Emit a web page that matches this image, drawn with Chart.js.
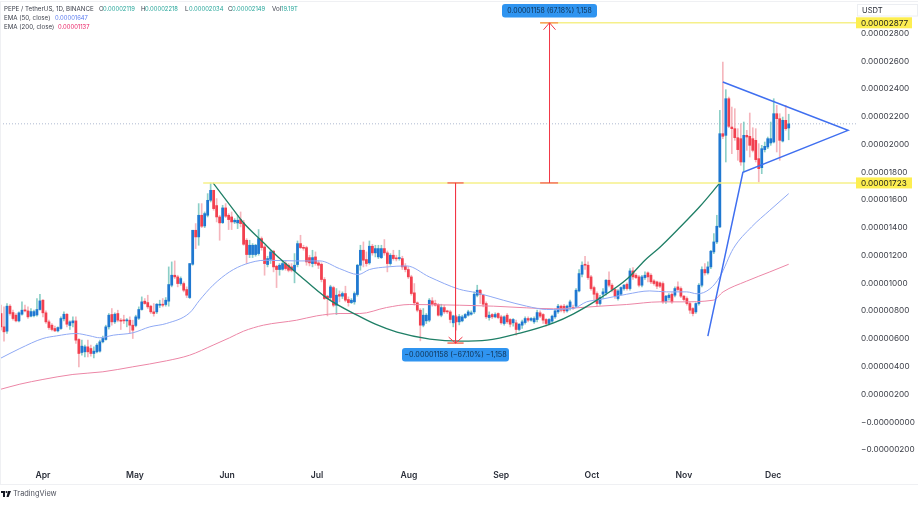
<!DOCTYPE html>
<html><head><meta charset="utf-8">
<style>html,body{margin:0;padding:0;background:#fff}canvas{display:block;filter:blur(.35px)}</style>
<script src="https://cdn.jsdelivr.net/npm/chart.js@4/dist/chart.umd.min.js"></script>
</head><body><canvas id="c" width="918" height="505"></canvas>
<script>
// Prices are in units of 0.00000001 USDT; x is days since the first candle.
const opens=[782,686,655,835,789,770,729,777,806,801,763,767,772,811,878,787,722,698,674,657,674,744,777,696,715,729,595,501,506,542,530,494,506,511,578,595,686,775,722,782,734,734,729,734,698,696,748,811,871,861,835,794,794,842,849,847,871,986,1058,1046,998,998,955,897,1137,1382,1334,1490,1413,1490,1598,1670,1560,1478,1437,1543,1490,1478,1442,1435,1459,1435,1310,1207,1207,1207,1214,1322,1262,1135,1173,1231,1123,1099,1101,1142,1130,1118,1089,1135,1286,1257,1257,1185,1142,1190,1147,1137,1027,907,897,969,842,919,907,926,883,861,866,919,1130,1238,1171,1147,1267,1219,1190,1185,1250,1219,1142,1202,1183,1178,1178,1123,1099,1046,931,859,806,698,729,734,873,854,847,770,825,801,794,715,758,722,729,753,770,777,794,914,950,914,854,753,775,758,782,758,710,770,739,715,715,667,698,717,746,734,722,739,787,775,739,710,727,758,794,835,835,801,830,825,835,945,1065,1137,1130,1046,969,926,854,921,931,1022,986,955,890,921,962,993,962,1089,1058,1046,986,1041,1075,1058,1017,1010,1003,998,871,897,921,914,974,962,907,890,854,818,794,854,986,1099,1075,1118,1226,1298,1406,2078,2066,2330,2126,2114,2049,2042,1874,2066,2059,2042,2030,1898,1833,1963,1982,2011,2018,2222,2186,2025,2174,2119];
const highs=[842,830,854,847,806,782,794,866,842,830,818,806,890,921,883,801,734,710,691,686,758,794,782,729,758,758,602,590,554,590,554,542,566,590,619,698,782,818,787,806,746,770,746,758,734,770,830,902,890,914,842,854,854,878,890,897,1118,1154,1161,1058,1046,1010,974,1142,1382,1430,1574,1574,1514,1646,1723,1670,1610,1490,1562,1574,1502,1514,1466,1490,1514,1454,1322,1310,1286,1281,1387,1334,1274,1195,1238,1238,1130,1142,1166,1161,1142,1142,1214,1305,1346,1274,1267,1202,1238,1226,1161,1147,1041,914,986,979,962,945,938,979,902,890,938,1137,1274,1298,1226,1305,1281,1274,1274,1274,1315,1233,1214,1238,1202,1238,1195,1142,1118,1058,998,866,818,818,782,890,897,878,854,849,842,806,806,770,770,775,770,782,806,801,938,986,955,921,866,794,782,787,787,770,765,782,746,746,734,710,734,758,758,753,758,806,801,782,746,746,770,811,849,842,849,842,878,842,962,1099,1154,1195,1154,1058,979,938,914,962,1027,1082,998,962,955,974,993,1003,1106,1113,1070,1058,1058,1082,1082,1070,1027,1015,1010,1010,914,926,931,974,1010,974,914,902,866,825,859,998,1118,1142,1154,1238,1358,1490,2246,2594,2395,2342,2270,2258,2114,2150,2162,2102,2227,2121,2114,2006,1994,2018,2054,2162,2330,2282,2222,2198,2282,2218];
const lows=[662,583,638,770,734,722,722,770,794,746,758,758,763,806,758,710,667,657,652,650,667,729,686,667,686,566,398,482,470,470,475,463,499,503,571,590,670,698,710,722,667,710,686,638,602,686,739,806,849,818,782,763,782,825,830,835,835,974,1034,974,986,938,897,890,1130,1250,1274,1401,1401,1478,1586,1526,1442,1310,1430,1473,1387,1387,1430,1394,1406,1274,1142,1185,1185,1195,1202,1238,1058,1118,1142,1082,969,1058,1094,1094,1082,1082,1003,1118,1250,1238,1130,1125,1118,1130,1106,1010,883,765,878,830,775,866,890,866,835,854,849,907,1094,1118,1123,1137,1202,1190,1178,1178,1202,1082,1130,1166,1161,1166,1099,1082,1034,914,842,794,585,686,710,722,835,835,763,758,782,782,715,686,662,700,722,746,763,770,782,902,854,830,746,734,746,751,744,705,698,710,686,691,626,657,674,705,722,727,710,722,753,710,691,700,710,746,782,794,787,792,806,811,825,938,1046,1099,1027,950,878,835,842,890,914,974,938,890,878,914,950,950,950,1027,1034,974,974,1027,1010,998,986,962,969,854,854,878,854,902,945,897,873,842,782,765,782,842,974,1058,1065,1106,1214,1286,1401,2042,1874,2121,1934,2030,1886,1850,1802,1958,1910,1946,1874,1730,1790,1946,1970,1994,2011,1946,1886,2018,2102,2034];
const closes=[686,650,835,782,746,729,787,806,801,758,796,796,811,873,787,722,681,667,657,681,746,777,705,722,729,590,494,547,542,506,494,511,554,578,602,686,770,722,777,734,727,729,734,698,662,758,811,866,854,830,794,782,849,847,842,878,991,1058,1046,998,1034,950,914,1142,1382,1334,1490,1411,1502,1598,1670,1538,1478,1435,1543,1483,1459,1442,1454,1454,1430,1281,1207,1274,1274,1274,1322,1257,1142,1178,1226,1118,1099,1130,1142,1106,1094,1094,1130,1286,1257,1252,1154,1147,1185,1142,1130,1027,890,890,974,842,914,907,926,878,861,878,926,1130,1238,1166,1142,1267,1219,1250,1250,1250,1219,1142,1202,1178,1176,1183,1118,1099,1046,926,859,806,698,770,770,878,849,842,770,825,794,794,739,765,722,760,758,775,794,787,921,950,921,849,758,770,758,775,753,715,758,722,705,739,667,705,722,746,734,746,746,789,763,734,710,739,763,801,835,806,801,835,866,818,950,1070,1130,1130,1041,962,921,854,897,938,1022,986,955,907,945,969,986,962,1089,1046,1041,986,1046,1058,1046,1010,998,979,979,866,907,914,866,962,955,907,883,854,806,782,854,986,1099,1075,1118,1231,1298,1411,2078,2059,2330,2131,2114,2049,1963,1874,2066,2054,1994,1958,1891,1826,1970,1987,2042,2042,2222,2186,2030,2174,2114,2149];

const ema50Days=[-0.3,6.3,14,18.6,25,29.7,33,37.5,44,49.7,55.2,63,66.3,70.8,76.3,81.5,88.2,98.7,106.5,113,119.3,123,129,135.4,143,153,158.9,167.7,175.5,182.2,191,195.5,200,208.9,216.6,222.2,228.9,232.5,236.7,240,244.5,250.6,256.7,263];
const ema50Vals=[458,530,602,621,638,621,607,626,643,686,710,787,878,986,1082,1137,1166,1161,1161,1106,1063,1099,1118,1125,1046,957,931,878,835,811,818,866,883,921,945,938,938,924,960,1046,1250,1406,1526,1646];
const ema200Days=[-0.3,6.3,14,24,34,44,55.2,63,70.8,76.3,81,87.6,98.7,105.4,113.2,119.8,128.7,136.5,153,164.4,175.5,184.4,192.2,200,208.9,220,226.7,237.8,241.1,248.9,256.7,263];
const ema200Vals=[235,273,307,343,362,398,441,482,554,607,655,698,734,765,782,782,825,847,842,835,823,816,823,835,847,866,866,878,938,1015,1082,1137];
const cupDays=[70.8,76.5,80.8,87.5,93,98.8,108.8,118.9,125,132.2,143.2,153.3,162.3,173.3,184.3,191,200,209,215,220,226.7,233.4,240];
const cupVals=[1723,1562,1440,1296,1180,1073,893,770,705,648,598,583,590,641,713,778,893,1030,1166,1260,1404,1555,1723];
const triangleDays=[236,247.7,282.8,241];
const triangleVals=[619,1800,2102,2450];
const lastPrice=2149, targetPrice=2877, necklinePrice=1723, cupLow=569;
const arrowDownDay=151.76, arrowUpDay=183.14;
const monthDays=[14,44.7,75.5,105.5,136.2,167,197.3,228,257.8];
const monthLabels=['Apr','May','Jun','Jul','Aug','Sep','Oct','Nov','Dec'];
const priceTicks=[2800,2600,2400,2200,2000,1800,1600,1400,1200,1000,800,600,400,200,-0.001,-200];
const xMin=-0.334,xMax=285.8,yMin=-287.9,yMax=2977;

const UP='#1f78d1',DOWN='#f2404f',UPW='#8ccfc7',DOWNW='#f5b6bd';
const FONT='Inter, "Noto Sans", sans-serif';
const days=opens.map((_,i)=>i);
const isUp=days.map(i=>closes[i]>=opens[i]);
const pts=(xs,ys)=>xs.map((x,i)=>({x,y:ys[i]}));
const line=(data,color,width,order,extra)=>Object.assign({type:'line',data,borderColor:color,borderWidth:width,pointRadius:0,fill:false,order,tension:0},extra||{});
const RED='#f23645';
const fmt=v=>{const n=Math.abs(v)/1e8;return (v<0?'\u2212':'')+n.toFixed(8)};

const overlay={id:'overlay',afterDraw(ch){
  const c=ch.ctx,y=ch.scales.y;
  c.save();c.textBaseline='middle';c.textAlign='left';
  c.fillStyle='#eff0f3';c.fillRect(0,1,918,1);c.fillRect(0,484,918,1);c.fillRect(0,1,1,483);
  const txt=(s,x,yy,col,f)=>{c.font=f;c.fillStyle=col;c.fillText(s,x,yy);};
  [targetPrice,necklinePrice].forEach(p=>{
    const py=y.getPixelForValue(p);
    c.fillStyle='#fdee50';c.fillRect(856,py-5.5,56,11);
    txt(fmt(p),861,py+.5,'#1b1b1b','8.2px '+FONT);
  });
  const box=(x,yy,w,h,s,size)=>{c.fillStyle='#2f94f0';c.beginPath();c.roundRect(x,yy,w,h,3);c.fill();
    c.textAlign='center';txt(s,x+w/2,yy+h/2+.5,'#10304f',size+'px '+FONT);c.textAlign='left';};
  box(502,4,95,13.5,'0.00001158 (67.18%) 1,158',6.9);
  box(402,348,107,13.5,'\u22120.00001158 (\u221267.10%) \u22121,158',7.2);
  c.strokeStyle='#eceef2';c.strokeRect(857.5,4.5,60,11.5);
  txt('USDT',862,10.5,'#2a2e39','7.6px '+FONT);
  const dark='#3b3f4a',teal='#26a69a',lab='6.2px '+FONT,val='5.85px '+FONT;
  txt('PEPE / TetherUS, 1D, BINANCE',4,9,dark,lab);
  [['O','0.00002119',99],['H','0.00002218',141],['L','0.00002034',185],['C','0.00002149',228]].forEach(r=>{
    txt(r[0],r[2],9,dark,lab);
    txt(r[1],r[2]+4,9,teal,val);
  });
  txt('Vol',272,9,dark,lab);txt('19.19T',281,9,teal,val);
  txt('EMA (50, close)',4,18,dark,lab);txt('0.00001647',55,18,'#5b7cf0',val);
  txt('EMA (200, close)',4,27,dark,lab);txt('0.00001137',58,27,'#e91e63',val);
  c.fillStyle='#131722';c.fillRect(1,491,4,2);c.fillRect(3,491,2,6);
  c.beginPath();c.arc(6.5,492,1,0,7);c.fill();
  c.beginPath();c.moveTo(8,491);c.lineTo(11,491);c.lineTo(8.6,497);c.lineTo(6.5,497);c.fill();
  txt('TradingView',13,494,'#50535e','7.4px '+FONT);
  c.restore();
}};

new Chart(document.getElementById('c'),{
  type:'bar',
  data:{datasets:[
    line(pts(triangleDays,triangleVals),'#3f6ff0',1.5,1),
    line(pts([arrowUpDay,arrowUpDay],[necklinePrice,targetPrice]),RED,1,1),
    line(pts([arrowUpDay-2,arrowUpDay,arrowUpDay+2],[targetPrice-50,targetPrice,targetPrice-50]),RED,1,1),
    line(pts([180,186],[targetPrice,targetPrice]),'#f6a05a',1.5,1),
    line(pts([180,186],[necklinePrice,necklinePrice]),RED,1,1),
    line(pts([arrowDownDay,arrowDownDay],[necklinePrice,cupLow]),RED,1,1),
    line(pts([arrowDownDay-2.3,arrowDownDay,arrowDownDay+2.3],[cupLow+43,cupLow,cupLow+43]),RED,1,1),
    line(pts([arrowDownDay-2.7,arrowDownDay+2.7],[cupLow,cupLow]),'#f6705a',1.5,1),
    line(pts([arrowDownDay-2.7,arrowDownDay+2.7],[necklinePrice,necklinePrice]),RED,1,1),
    line(pts([67.5,xMax],[necklinePrice,necklinePrice]),'#f6f08a',1.6,2),
    line(pts([180,xMax],[targetPrice,targetPrice]),'#f6f08a',1.6,2),
    line(pts(cupDays,cupVals),'#1f7f66',1.3,2,{cubicInterpolationMode:'monotone'}),
    line(pts(ema50Days,ema50Vals),'#8fa9f4',1,3,{cubicInterpolationMode:'monotone'}),
    line(pts(ema200Days,ema200Vals),'#ec86a6',1,3,{cubicInterpolationMode:'monotone'}),
    line(pts([xMin,xMax],[lastPrice,lastPrice]),'#aeb9d0',1,6,{borderDash:[1,2]}),
    {type:'bar',data:days.map(i=>({x:i,y:[opens[i],closes[i]]})),backgroundColor:isUp.map(u=>u?UP:DOWN),barThickness:2.1,minBarLength:1,grouped:false,order:4},
    {type:'bar',data:days.map(i=>({x:i,y:[lows[i],highs[i]]})),backgroundColor:isUp.map(u=>u?UPW:DOWNW),barThickness:1,grouped:false,order:5}
  ]},
  options:{
    responsive:false,animation:false,events:[],
    layout:{padding:{top:0,left:0,right:0,bottom:0}},
    plugins:{legend:{display:false},tooltip:{enabled:false}},
    scales:{
      x:{type:'linear',offset:false,min:xMin,max:xMax,
        grid:{display:false,drawTicks:false},border:{display:false},
        afterBuildTicks:s=>{s.ticks=monthDays.map(v=>({value:v}));},
        afterFit:s=>{s.height=43;},
        ticks:{autoSkip:false,maxRotation:0,padding:8,color:'#2a2e39',font:{family:FONT,size:8.6,weight:'600'},callback:(v,i)=>monthLabels[i]}},
      y:{type:'linear',position:'right',min:yMin,max:yMax,
        grid:{display:false,drawTicks:false},border:{display:false},
        afterBuildTicks:s=>{s.ticks=priceTicks.map(v=>({value:v}));},
        afterFit:s=>{s.width=61;},
        ticks:{autoSkip:false,padding:4,color:'#3a3d46',font:{family:FONT,size:8.2},callback:v=>fmt(v)}}
    }
  },
  plugins:[overlay]
});
</script></body></html>
